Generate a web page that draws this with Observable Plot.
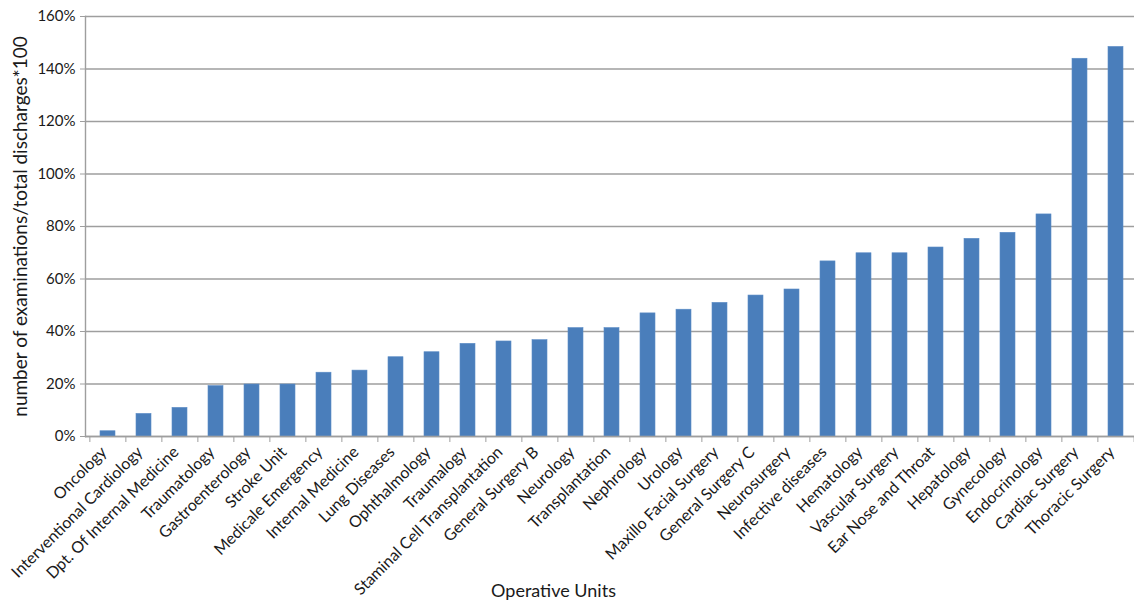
<!DOCTYPE html>
<html>
<head>
<meta charset="utf-8">
<script src="https://cdn.jsdelivr.net/npm/d3@7"></script>
<script src="https://cdn.jsdelivr.net/npm/@observablehq/plot@0.6"></script>
<style>
  html, body { margin: 0; padding: 0; background: #fff; overflow: hidden; }
</style>
</head>
<body>
<div id="chart"></div>
<script>
// Operative units, sorted by examinations per discharge
const units = [
  "Oncology", "Interventional Cardiology", "Dpt. Of Internal Medicine", "Traumatology",
  "Gastroenterology", "Stroke Unit", "Medicale Emergency", "Internal Medicine",
  "Lung Diseases", "Ophthalmology", "Traumalogy", "Staminal Cell Transplantation",
  "General Surgery B", "Neurology", "Transplantation", "Nephrology", "Urology",
  "Maxillo Facial Surgery", "General Surgery C", "Neurosurgery", "Infective diseases",
  "Hematology", "Vascular Surgery", "Ear Nose and Throat", "Hepatology", "Gynecology",
  "Endocrinology", "Cardiac Surgery", "Thoracic Surgery"
];

// number of examinations / total discharges * 100 (percent)
const ratios = [
  2.0, 8.6, 10.9, 19.2, 19.8, 19.8, 24.3, 25.1, 30.2, 32.1, 35.3, 36.2, 36.7, 41.3,
  41.3, 46.9, 48.3, 50.9, 53.7, 56.0, 66.7, 69.8, 69.8, 72.0, 75.3, 77.6, 84.6,
  143.9, 148.4
];

const yTicks = [0, 20, 40, 60, 80, 100, 120, 140, 160];
const xTitle = ["Operative Units"];
const yTitle = "number of examinations/total discharges*100";

const data = units.map((unit, i) => ({unit, ratio: ratios[i]}));

const width = 1134, height = 604;
const marginLeft = 85, marginRight = -3, marginTop = 16, marginBottom = 168;
const step = (width - marginLeft - marginRight) / units.length;
const gray = "#9e9e9e";

const chart = Plot.plot({
  width, height, marginLeft, marginRight, marginTop, marginBottom,
  style: {fontFamily: "Lato", color: "#1a1a1a", background: "#fff", overflow: "visible"},
  x: {domain: units, paddingInner: 0.595, paddingOuter: 0.2975, axis: null},
  y: {domain: [0, 160], axis: null},
  marks: [
    Plot.gridY(yTicks, {stroke: gray, strokeOpacity: 1, strokeWidth: 1.3}),
    Plot.barY(data, {x: "unit", y: "ratio", fill: "#4a7ebb", stroke: "#5b8cc6", strokeWidth: 0.6}),
    Plot.ruleY([0], {stroke: gray, strokeWidth: 1.4}),
    Plot.frame({anchor: "left", stroke: gray, strokeWidth: 1.4}),
    // category boundary ticks below the baseline
    Plot.axisX({ticks: units, tickSize: 6, tickFormat: () => "", dx: -step / 2, stroke: gray, label: null}),
    Plot.axisX({ticks: units.slice(-1), tickSize: 6, tickFormat: () => "", dx: step / 2, stroke: gray, label: null}),
    // rotated category labels
    Plot.axisX({tickSize: 0, tickPadding: 11, tickRotate: -45, fontSize: 16, dx: -4, dy: 2, label: null}),
    Plot.axisY(yTicks, {
      tickSize: 5, tickPadding: 5, stroke: gray, fontSize: 15,
      tickFormat: d => d + "%",
      label: null
    }),
    Plot.axisY({
      ticks: [], fontSize: 19, label: yTitle, labelAnchor: "center",
      labelArrow: "none", labelOffset: 72, dy: -8
    }),
    Plot.text(xTitle, {frameAnchor: "bottom", dy: 155, dx: -58, fontSize: 18, lineAnchor: "middle"})
  ]
});

document.getElementById("chart").appendChild(chart);
</script>
</body>
</html>
